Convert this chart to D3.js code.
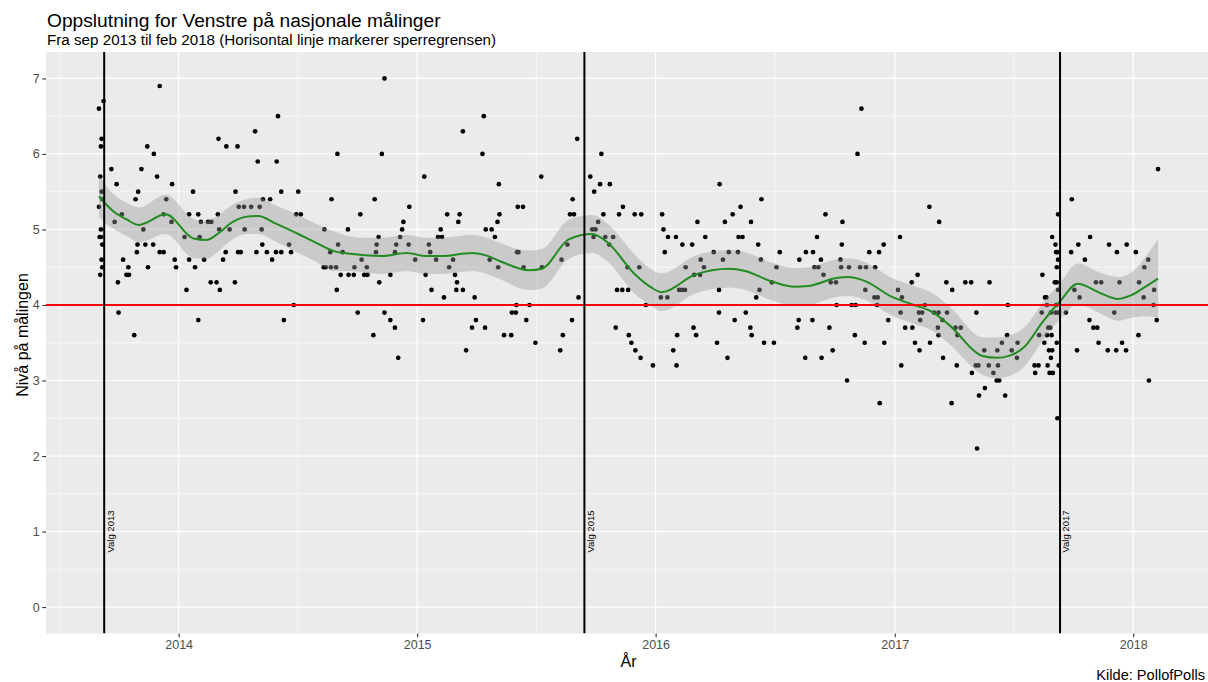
<!DOCTYPE html>
<html>
<head>
<meta charset="utf-8">
<script src="https://cdn.jsdelivr.net/npm/d3@7"></script>
<style>
  body { margin: 0; background: #fff; }
  svg { display: block; font-family: "Liberation Sans", Arial, sans-serif; }
</style>
</head>
<body>
<svg id="chart" width="1208" height="682"></svg>
<script>
// målinger: [dato, oppslutning]
const polls = [
  ["2013-09-01",6.6],["2013-09-08",6.7],["2013-12-03",6.9],["2013-09-05",6.2],["2013-09-04",6.1],["2013-11-14",6.1],["2013-11-24",6.0],
  ["2013-09-20",5.8],["2013-11-05",5.8],["2013-09-03",5.7],["2013-11-29",5.7],["2013-09-28",5.6],["2013-12-22",5.6],["2013-09-05",5.5],
  ["2013-10-31",5.5],["2014-01-23",5.5],["2013-09-06",5.4],["2013-10-27",5.4],["2013-12-13",5.4],["2013-09-01",5.3],["2013-10-06",5.2],
  ["2013-12-09",5.2],["2014-01-17",5.2],["2014-01-31",5.2],["2013-09-25",5.1],["2013-12-21",5.1],["2014-02-04",5.1],["2013-09-04",5.0],
  ["2013-11-08",5.0],["2013-09-02",4.9],["2013-09-04",4.9],["2014-01-10",4.9],["2014-02-02",4.9],["2013-09-06",4.8],["2013-10-30",4.8],
  ["2013-11-11",4.8],["2013-11-23",4.8],["2013-10-29",4.7],["2013-12-03",4.7],["2013-12-09",4.7],["2013-09-05",4.6],["2013-10-08",4.6],
  ["2013-12-26",4.6],["2014-01-17",4.6],["2013-09-06",4.5],["2013-10-16",4.5],["2013-11-15",4.5],["2013-12-28",4.5],["2014-01-26",4.5],
  ["2013-09-03",4.4],["2013-10-13",4.4],["2013-10-17",4.4],["2013-09-30",4.3],["2014-01-13",4.2],["2013-10-01",3.9],["2014-01-31",3.8],
  ["2013-10-25",3.6],
  ["2014-06-02",6.5],["2014-04-28",6.3],["2014-03-03",6.2],["2014-03-15",6.1],["2014-04-01",6.1],["2014-09-01",6.0],["2014-05-02",5.9],
  ["2014-05-31",5.9],["2014-03-29",5.5],["2014-06-07",5.5],["2014-07-03",5.5],["2014-05-10",5.4],["2014-05-21",5.4],["2014-08-23",5.4],
  ["2014-04-03",5.3],["2014-04-11",5.3],["2014-04-22",5.3],["2014-05-05",5.3],["2014-03-02",5.2],["2014-06-30",5.2],["2014-07-07",5.2],
  ["2014-02-15",5.1],["2014-02-20",5.1],["2014-03-04",5.0],["2014-03-20",5.0],["2014-04-12",5.0],["2014-05-08",5.0],["2014-08-12",5.0],
  ["2014-09-17",5.0],["2014-05-09",4.8],["2014-06-19",4.8],["2014-09-02",4.8],["2014-03-14",4.7],["2014-04-02",4.7],["2014-04-06",4.7],
  ["2014-04-30",4.7],["2014-05-16",4.7],["2014-05-30",4.7],["2014-06-07",4.7],["2014-06-22",4.7],["2014-08-21",4.7],["2014-09-09",4.7],
  ["2014-02-09",4.6],["2014-03-10",4.6],["2014-05-24",4.6],["2014-08-11",4.5],["2014-08-14",4.5],["2014-08-22",4.5],["2014-08-30",4.5],
  ["2014-09-06",4.4],["2014-09-18",4.4],["2014-02-19",4.3],["2014-02-28",4.3],["2014-03-28",4.3],["2014-03-05",4.2],["2014-08-31",4.2],
  ["2014-06-26",4.0],["2014-06-11",3.8],
  ["2014-11-12",7.0],["2015-04-13",6.5],["2015-03-12",6.3],["2014-11-08",6.0],["2015-04-11",6.0],["2015-01-12",5.7],["2015-05-06",5.6],
  ["2014-10-28",5.4],["2014-12-20",5.3],["2014-10-06",5.2],["2015-02-16",5.2],["2015-03-07",5.2],["2015-05-07",5.2],["2014-12-11",5.1],
  ["2015-03-05",5.1],["2015-05-04",5.1],["2014-12-09",5.0],["2015-02-06",5.0],["2015-04-16",5.0],["2015-04-25",5.0],["2014-11-03",4.9],
  ["2014-12-06",4.9],["2015-02-02",4.9],["2015-02-08",4.9],["2015-04-30",4.9],["2014-10-31",4.8],["2014-11-30",4.8],["2014-12-19",4.8],
  ["2015-01-19",4.8],["2014-10-30",4.7],["2014-11-28",4.7],["2015-01-21",4.7],["2014-10-08",4.6],["2014-12-29",4.6],["2015-01-30",4.6],
  ["2015-02-25",4.6],["2015-04-22",4.6],["2014-09-27",4.5],["2014-10-16",4.5],["2015-02-19",4.5],["2015-05-05",4.5],["2014-09-26",4.4],
  ["2014-10-12",4.4],["2014-10-17",4.4],["2014-11-21",4.4],["2015-01-14",4.4],["2015-02-28",4.4],["2014-11-04",4.3],["2015-03-03",4.3],
  ["2015-01-23",4.2],["2015-03-02",4.2],["2015-03-12",4.2],["2015-02-11",4.1],["2015-03-30",4.1],["2014-10-02",3.9],["2014-11-12",3.9],
  ["2014-11-21",3.8],["2015-01-10",3.8],["2015-04-01",3.8],["2014-11-28",3.7],["2015-03-26",3.7],["2015-04-15",3.7],["2014-10-26",3.6],
  ["2015-03-17",3.4],["2014-12-03",3.3],
  ["2015-09-03",6.2],["2015-10-10",6.0],["2015-07-10",5.7],["2015-09-23",5.7],["2015-10-08",5.6],["2015-10-23",5.6],["2015-09-29",5.5],
  ["2015-08-27",5.4],["2015-06-04",5.3],["2015-06-12",5.3],["2015-11-12",5.3],["2015-08-23",5.2],["2015-08-29",5.2],["2015-10-13",5.2],
  ["2015-11-06",5.2],["2015-11-30",5.2],["2015-12-10",5.2],["2015-10-05",5.1],["2015-09-26",5.0],["2015-10-01",5.0],["2015-09-28",4.9],
  ["2015-10-16",4.9],["2015-10-28",4.9],["2015-08-19",4.8],["2015-10-22",4.8],["2015-06-03",4.7],["2015-06-05",4.7],["2015-08-10",4.6],
  ["2015-06-13",4.5],["2015-07-11",4.5],["2015-11-19",4.5],["2015-12-07",4.5],["2015-11-03",4.2],["2015-11-11",4.2],["2015-11-20",4.2],
  ["2015-09-05",4.1],["2015-06-02",4.0],["2015-06-22",4.0],["2015-12-17",4.0],["2015-05-26",3.9],["2015-06-01",3.9],["2015-06-17",3.8],
  ["2015-08-26",3.8],["2015-11-01",3.7],["2015-05-14",3.6],["2015-05-25",3.6],["2015-08-12",3.6],["2015-11-21",3.6],["2015-07-01",3.5],
  ["2015-11-25",3.5],["2015-08-08",3.4],["2015-12-01",3.4],["2015-12-09",3.3],
  ["2016-04-08",5.6],["2016-06-11",5.4],["2016-05-10",5.3],["2016-01-11",5.2],["2016-04-28",5.2],["2016-03-05",5.1],["2016-04-16",5.1],
  ["2016-05-26",5.1],["2016-01-13",5.0],["2016-01-20",4.9],["2016-02-01",4.9],["2016-03-17",4.9],["2016-05-07",4.9],["2016-05-13",4.9],
  ["2016-02-11",4.8],["2016-02-26",4.8],["2016-06-06",4.8],["2016-01-15",4.7],["2016-03-30",4.7],["2016-04-22",4.7],["2016-05-06",4.7],
  ["2016-07-09",4.7],["2016-03-10",4.6],["2016-04-13",4.6],["2016-06-10",4.6],["2016-08-08",4.6],["2016-02-16",4.5],["2016-03-15",4.5],
  ["2016-07-04",4.5],["2016-02-29",4.4],["2016-03-09",4.4],["2016-06-27",4.3],["2016-02-06",4.2],["2016-02-10",4.2],["2016-02-15",4.2],
  ["2016-04-07",4.2],["2016-06-08",4.2],["2016-01-09",4.1],["2016-01-19",4.1],["2016-06-03",4.1],["2016-04-07",3.9],["2016-05-18",3.9],
  ["2016-05-01",3.8],["2016-08-07",3.8],["2016-02-28",3.7],["2016-05-25",3.7],["2016-08-05",3.7],["2016-02-03",3.6],["2016-03-03",3.6],
  ["2016-05-27",3.6],["2016-04-04",3.5],["2016-06-15",3.5],["2016-06-30",3.5],["2016-01-28",3.4],["2016-04-20",3.3],["2015-12-28",3.2],
  ["2016-02-02",3.2],
  ["2016-11-11",6.6],["2016-11-05",6.0],["2017-02-23",5.3],["2016-09-17",5.2],["2016-10-13",5.1],["2017-03-10",5.1],["2016-09-04",4.9],
  ["2017-01-09",4.9],["2016-10-12",4.8],["2016-12-15",4.8],["2016-08-18",4.7],["2016-08-29",4.7],["2016-11-23",4.7],["2016-12-08",4.7],
  ["2016-09-10",4.6],["2016-10-10",4.6],["2016-08-31",4.5],["2016-09-06",4.5],["2016-10-11",4.5],["2016-10-23",4.5],["2016-11-09",4.5],
  ["2016-11-18",4.5],["2016-12-02",4.5],["2016-09-14",4.4],["2017-02-05",4.4],["2016-09-25",4.3],["2016-10-03",4.3],["2017-01-27",4.3],
  ["2017-03-21",4.3],["2016-11-17",4.2],["2017-01-06",4.2],["2016-12-01",4.1],["2016-12-06",4.1],["2017-01-12",4.1],["2016-10-04",4.0],
  ["2016-10-27",4.0],["2016-11-02",4.0],["2016-12-05",4.0],["2017-02-16",4.0],["2017-01-10",3.9],["2017-02-07",3.9],["2017-02-12",3.9],
  ["2017-03-02",3.9],["2017-03-09",3.9],["2017-03-22",3.9],["2016-08-28",3.8],["2016-12-22",3.8],["2017-02-09",3.8],["2017-03-15",3.8],
  ["2016-09-23",3.7],["2017-01-17",3.7],["2017-01-28",3.7],["2017-03-08",3.7],["2016-11-01",3.6],["2017-03-09",3.6],["2016-11-16",3.5],
  ["2016-12-16",3.5],["2017-02-01",3.5],["2017-02-24",3.5],["2016-09-28",3.4],["2017-02-08",3.4],["2016-08-17",3.3],["2016-09-11",3.3],
  ["2017-03-16",3.3],["2017-01-11",3.2],["2016-10-20",3.0],["2016-12-09",2.7],
  ["2017-09-29",5.4],["2017-09-08",5.2],["2017-08-30",4.9],["2017-10-27",4.9],["2017-09-04",4.8],["2017-10-09",4.8],["2017-09-05",4.7],
  ["2017-09-07",4.7],["2017-09-28",4.7],["2017-09-08",4.6],["2017-10-19",4.6],["2017-09-06",4.5],["2017-08-15",4.4],["2017-04-19",4.3],
  ["2017-04-28",4.3],["2017-05-26",4.3],["2017-09-03",4.3],["2017-09-06",4.3],["2017-11-05",4.3],["2017-03-30",4.2],["2017-09-08",4.2],
  ["2017-10-03",4.2],["2017-08-19",4.1],["2017-08-21",4.1],["2017-10-11",4.1],["2017-06-23",4.0],["2017-08-22",4.0],["2017-09-05",4.0],
  ["2017-05-06",3.9],["2017-08-14",3.9],["2017-08-28",3.9],["2017-09-04",3.9],["2017-09-08",3.9],["2017-09-20",3.9],["2017-10-26",3.8],
  ["2017-04-04",3.7],["2017-04-12",3.7],["2017-08-24",3.7],["2017-08-27",3.7],["2017-11-01",3.7],["2017-11-07",3.7],["2017-04-07",3.6],
  ["2017-06-22",3.6],["2017-08-22",3.6],["2017-08-29",3.6],["2017-08-10",3.6],["2017-06-14",3.5],["2017-07-08",3.5],["2017-08-18",3.5],
  ["2017-09-06",3.5],["2017-11-09",3.5],["2017-05-18",3.4],["2017-06-07",3.4],["2017-06-29",3.4],["2017-08-25",3.4],["2017-08-30",3.4],
  ["2017-10-07",3.4],["2017-07-07",3.3],["2017-08-28",3.3],["2017-04-06",3.2],["2017-05-05",3.2],["2017-05-09",3.2],["2017-05-25",3.2],
  ["2017-06-08",3.2],["2017-08-03",3.2],["2017-08-09",3.2],["2017-08-23",3.2],["2017-09-09",3.2],["2017-04-29",3.1],["2017-06-01",3.1],
  ["2017-08-04",3.1],["2017-08-26",3.1],["2017-08-31",3.1],["2017-06-06",3.0],["2017-06-10",3.0],["2017-05-19",2.9],["2017-05-10",2.8],
  ["2017-06-19",2.8],["2017-03-29",2.7],["2017-09-07",2.5],["2017-05-07",2.1],
  ["2018-02-08",5.8],["2017-11-25",4.8],["2017-12-22",4.8],["2017-12-07",4.7],["2018-01-05",4.7],["2018-01-24",4.6],["2018-01-18",4.5],
  ["2017-11-13",4.3],["2017-12-11",4.3],["2018-01-10",4.3],["2018-02-02",4.2],["2018-01-17",4.1],["2018-02-01",4.0],["2017-12-03",3.9],
  ["2018-02-06",3.8],["2018-01-09",3.6],["2017-12-15",3.5],["2017-11-23",3.4],["2017-12-06",3.4],["2017-12-21",3.4],["2018-01-25",3.0]
];

// glattet trend: [dato, verdi, halv bredde på konfidensbåndet]
const smooth = [
  ["2013-09-01",5.44,0.27],["2013-09-08",5.37,0.26],["2013-09-23",5.24,0.23],["2013-10-14",5.13,0.22],["2013-11-01",5.06,0.23],
  ["2013-12-12",5.20,0.26],["2014-01-24",4.88,0.26],["2014-02-12",4.86,0.25],["2014-03-03",4.95,0.24],["2014-03-23",5.09,0.23],
  ["2014-04-15",5.17,0.23],["2014-05-03",5.18,0.24],["2014-05-29",5.08,0.24],["2014-07-03",4.94,0.25],["2014-07-29",4.83,0.25],
  ["2014-08-28",4.71,0.26],["2014-09-20",4.68,0.23],["2014-10-13",4.66,0.23],["2014-11-08",4.65,0.24],["2014-12-16",4.69,0.24],
  ["2015-01-13",4.65,0.24],["2015-02-08",4.65,0.24],["2015-03-26",4.69,0.24],["2015-04-15",4.66,0.24],["2015-05-08",4.58,0.24],
  ["2015-06-21",4.46,0.26],["2015-07-11",4.48,0.26],["2015-08-21",4.87,0.26],["2015-09-26",4.94,0.25],["2015-10-19",4.83,0.25],
  ["2015-12-01",4.40,0.26],["2015-12-24",4.24,0.24],["2016-01-10",4.17,0.25],["2016-03-01",4.40,0.25],["2016-04-22",4.48,0.25],
  ["2016-05-17",4.45,0.25],["2016-06-27",4.31,0.25],["2016-08-01",4.24,0.25],["2016-08-21",4.25,0.25],["2016-10-06",4.36,0.25],
  ["2016-10-21",4.37,0.25],["2016-11-16",4.32,0.25],["2016-12-27",4.11,0.25],["2017-01-27",4.01,0.25],["2017-03-03",3.89,0.25],
  ["2017-03-26",3.73,0.25],["2017-05-17",3.32,0.25],["2017-06-06",3.30,0.27],["2017-06-26",3.33,0.27],["2017-07-19",3.45,0.26],
  ["2017-08-14",3.76,0.25],["2017-09-11",4.05,0.24],["2017-10-08",4.28,0.27],["2017-11-11",4.16,0.27],["2017-12-09",4.08,0.29],
  ["2017-12-29",4.13,0.30],["2018-01-21",4.25,0.40],["2018-02-08",4.35,0.52]
];

const electionDates = ["2013-09-09", "2015-09-14", "2017-09-11"];
const electionLabels = ["Valg 2013", "Valg 2015", "Valg 2017"];
const yTicks = [0, 1, 2, 3, 4, 5, 6, 7];
const xTickYears = [2014, 2015, 2016, 2017, 2018];
const threshold = 4;

const parseDate = d3.utcParse("%Y-%m-%d");
const pollData = polls.map(p => ({ date: parseDate(p[0]), value: p[1] }));
const smoothData = smooth.map(s => ({ date: parseDate(s[0]), value: s[1], hw: s[2] }));

const svg = d3.select("#chart");
const panel = { left: 46, right: 1211, top: 52, bottom: 633.5 };

// ggplot-aktig utvidelse på 5 %
const dExt = d3.extent(pollData, d => d.date);
const pad = (dExt[1] - dExt[0]) * 0.05;
const x = d3.scaleUtc()
    .domain([new Date(+dExt[0] - pad), new Date(+dExt[1] + pad)])
    .range([panel.left, panel.right]);
const y = d3.scaleLinear()
    .domain([0 - 0.35, 7 + 0.35])
    .range([panel.bottom, panel.top]);

svg.append("rect").attr("width", 1208).attr("height", 682).attr("fill", "#fff");

svg.append("clipPath").attr("id", "clip")
    .append("rect")
    .attr("x", panel.left).attr("y", panel.top)
    .attr("width", panel.right - panel.left).attr("height", panel.bottom - panel.top);

svg.append("rect")
    .attr("x", panel.left).attr("y", panel.top)
    .attr("width", panel.right - panel.left).attr("height", panel.bottom - panel.top)
    .attr("fill", "#EBEBEB");

const g = svg.append("g").attr("clip-path", "url(#clip)");

// hjelpelinjer
const minorY = yTicks.slice(0, -1).map(v => v + 0.5);
const yearStarts = d3.range(2013, 2020).map(yr => Date.UTC(yr, 0, 1));
const minorX = yearStarts.slice(0, -1).map((t, i) => new Date((t + yearStarts[i + 1]) / 2));
const majorX = xTickYears.map(yr => new Date(Date.UTC(yr, 0, 1)));

g.selectAll(".minorY").data(minorY).join("line")
    .attr("x1", panel.left).attr("x2", panel.right)
    .attr("y1", d => y(d)).attr("y2", d => y(d))
    .attr("stroke", "#fff").attr("stroke-width", 0.6);
g.selectAll(".minorX").data(minorX).join("line")
    .attr("x1", d => x(d)).attr("x2", d => x(d))
    .attr("y1", panel.top).attr("y2", panel.bottom)
    .attr("stroke", "#fff").attr("stroke-width", 0.6);
g.selectAll(".majorY").data(yTicks).join("line")
    .attr("x1", panel.left).attr("x2", panel.right)
    .attr("y1", d => y(d)).attr("y2", d => y(d))
    .attr("stroke", "#fff").attr("stroke-width", 1.2);
g.selectAll(".majorX").data(majorX).join("line")
    .attr("x1", d => x(d)).attr("x2", d => x(d))
    .attr("y1", panel.top).attr("y2", panel.bottom)
    .attr("stroke", "#fff").attr("stroke-width", 1.2);

// punkter
g.selectAll(".poll").data(pollData).join("circle")
    .attr("cx", d => x(d.date))
    .attr("cy", d => y(d.value))
    .attr("r", 2.35)
    .attr("fill", "#000");

// konfidensbånd og trendlinje
g.append("path")
    .datum(smoothData)
    .attr("d", d3.area()
        .x(d => x(d.date))
        .y0(d => y(d.value - d.hw))
        .y1(d => y(d.value + d.hw))
        .curve(d3.curveMonotoneX))
    .attr("fill", "#999999")
    .attr("fill-opacity", 0.4);

g.append("path")
    .datum(smoothData)
    .attr("d", d3.line()
        .x(d => x(d.date))
        .y(d => y(d.value))
        .curve(d3.curveMonotoneX))
    .attr("fill", "none")
    .attr("stroke", "#228B22")
    .attr("stroke-width", 2);

// sperregrensen
g.append("line")
    .attr("x1", panel.left).attr("x2", panel.right)
    .attr("y1", y(threshold)).attr("y2", y(threshold))
    .attr("stroke", "#FF0000").attr("stroke-width", 1.9);

// valg
const elections = electionDates.map((d, i) => ({ date: parseDate(d), label: electionLabels[i] }));
g.selectAll(".valg").data(elections).join("line")
    .attr("x1", d => x(d.date)).attr("x2", d => x(d.date))
    .attr("y1", panel.top).attr("y2", panel.bottom)
    .attr("stroke", "#000").attr("stroke-width", 2);

g.selectAll(".valgtekst").data(elections).join("text")
    .attr("transform", d => `translate(${x(d.date) + 6},${y(1)}) rotate(-90)`)
    .attr("text-anchor", "middle")
    .attr("dy", "0.35em")
    .attr("font-size", "9.5px")
    .attr("fill", "#000")
    .text(d => d.label);

// akser
const yAxis = svg.append("g")
    .attr("transform", `translate(${panel.left},0)`)
    .call(d3.axisLeft(y).tickValues(yTicks).tickSize(3.7).tickPadding(2.5));
const xAxis = svg.append("g")
    .attr("transform", `translate(0,${panel.bottom})`)
    .call(d3.axisBottom(x).tickValues(majorX).tickFormat(d3.utcFormat("%Y")).tickSize(3.7).tickPadding(2.5));

[yAxis, xAxis].forEach(ax => {
    ax.select(".domain").remove();
    ax.selectAll(".tick line").attr("stroke", "#333333").attr("stroke-width", 1.1);
    ax.selectAll(".tick text")
        .attr("fill", "#4D4D4D")
        .attr("font-size", "12.5px")
        .attr("font-family", "Liberation Sans, Arial, sans-serif");
});

// tekster
svg.append("text")
    .attr("x", 47).attr("y", 27)
    .attr("font-size", "19.2px")
    .attr("fill", "#000")
    .text("Oppslutning for Venstre på nasjonale målinger");
svg.append("text")
    .attr("x", 47).attr("y", 45)
    .attr("font-size", "15.2px")
    .attr("fill", "#000")
    .text("Fra sep 2013 til feb 2018 (Horisontal linje markerer sperregrensen)");

svg.append("text")
    .attr("x", (panel.left + panel.right) / 2).attr("y", 667)
    .attr("text-anchor", "middle")
    .attr("font-size", "16px")
    .text("År");

svg.append("text")
    .attr("transform", `translate(27.5,335) rotate(-90)`)
    .attr("text-anchor", "middle")
    .attr("font-size", "16px")
    .text("Nivå på målingen");

svg.append("text")
    .attr("x", 1205).attr("y", 680)
    .attr("text-anchor", "end")
    .attr("font-size", "14.6px")
    .text("Kilde: PollofPolls");
</script>
</body>
</html>
